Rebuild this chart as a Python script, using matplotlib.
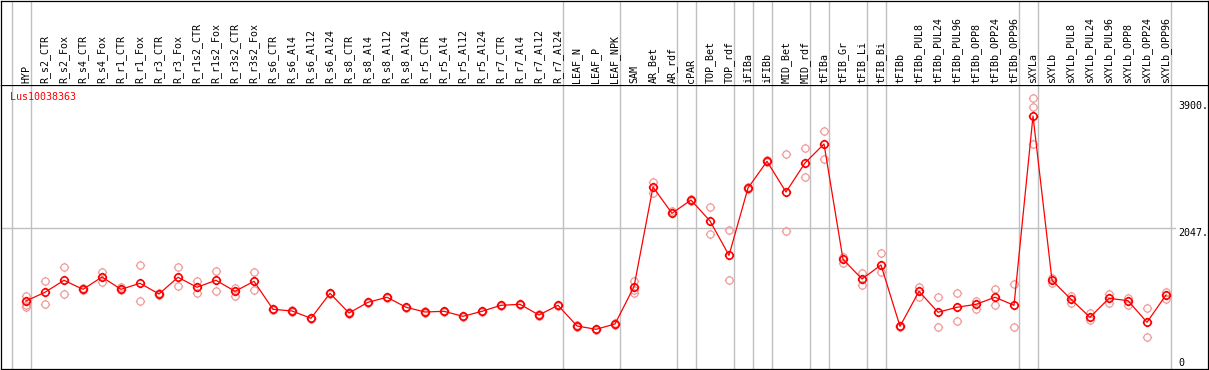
import matplotlib
matplotlib.use("Agg")
import matplotlib.pyplot as plt
from matplotlib.path import Path

samples = [
    "HYP",
    "R_s2_CTR", "R_s2_Fox", "R_s4_CTR", "R_s4_Fox", "R_r1_CTR", "R_r1_Fox",
    "R_r3_CTR", "R_r3_Fox", "R_r1s2_CTR", "R_r1s2_Fox", "R_r3s2_CTR", "R_r3s2_Fox",
    "R_s6_CTR", "R_s6_Al4", "R_s6_Al12", "R_s6_Al24",
    "R_s8_CTR", "R_s8_Al4", "R_s8_Al12", "R_s8_Al24",
    "R_r5_CTR", "R_r5_Al4", "R_r5_Al12", "R_r5_Al24",
    "R_r7_CTR", "R_r7_Al4", "R_r7_Al12", "R_r7_Al24",
    "LEAF_N", "LEAF_P", "LEAF_NPK",
    "SAM", "AR_Bet", "AR_rdf", "cPAR", "TOP_Bet", "TOP_rdf", "iFIBa", "iFIBb",
    "MID_Bet", "MID_rdf", "tFIBa", "tFIB_Gr", "tFIB_Li", "tFIB_Bi",
    "tFIBb", "tFIBb_PUL8", "tFIBb_PUL24", "tFIBb_PUL96",
    "tFIBb_OPP8", "tFIBb_OPP24", "tFIBb_OPP96",
    "sXYLa", "sXYLb", "sXYLb_PUL8", "sXYLb_PUL24", "sXYLb_PUL96",
    "sXYLb_OPP8", "sXYLb_OPP24", "sXYLb_OPP96",
]

mean_vals = [
    986,
    1113, 1288, 1156, 1336, 1156, 1244, 1088, 1332, 1186, 1288, 1127, 1273,
    864, 840, 733, 1098,
    810, 967, 1040, 894,
    825, 835, 762, 835,
    923, 937, 781, 923,
    621, 572, 650,
    1194, 2650, 2266, 2460, 2154, 1653, 2635, 3025,
    2577, 3001, 3278, 1594, 1307, 1511,
    616, 1127, 821, 894, 937, 1040, 923,
    3687, 1288, 1010, 748, 1025, 990, 675, 1073,
]

replicates = [
    [1059, 927, 902],
    [1273, 937], [1478, 1088], [1180, 1146], [1409, 1259], [1194, 1146], [1507, 986],
    [1102, 1073], [1478, 1200], [1273, 1098], [1428, 1132], [1180, 1063], [1413, 1142],
    [874, 856], [848, 832], [741, 725], [1106, 1090],
    [818, 802], [975, 959], [1048, 1032], [902, 886],
    [833, 817], [843, 827], [770, 754], [843, 827],
    [931, 915], [945, 929], [789, 773], [931, 915],
    [629, 613], [580, 564], [658, 642],
    [1278, 1098, 1146], [2727, 2567], [2300, 2266], [2480, 2440], [2358, 1964], [2022, 1288],
    [2650, 2620], [3040, 3010],
    [3128, 2008], [3215, 2792], [3472, 3054], [1632, 1536], [1399, 1219], [1686, 1405],
    [626, 606], [1194, 1048], [1040, 602], [1098, 694], [986, 869], [1156, 923], [1234, 602],
    [3945, 3814, 3278], [1321, 1253], [1059, 961], [806, 708], [1092, 961],
    [1029, 932], [888, 456], [1117, 1015],
]

group_breaks = [-1, 0, 28, 31, 34, 35, 37, 38, 39, 41, 42, 44, 45, 52, 53, 60]
gene = "Lus10038363"
y_marks = [3900, 2047, 0]
grid_value = 2047

W, H = 1209, 370
GRAY = "#c0c0c0"
MONO = "DejaVu Sans Mono"
FS = 7.2

# ring marker with four small ticks
ring = Path.make_compound_path(
    Path.unit_circle(),
    Path([(0, 1.0), (0, 1.3)]), Path([(0, -1.0), (0, -1.3)]),
    Path([(1.0, 0), (1.3, 0)]), Path([(-1.0, 0), (-1.3, 0)]),
)

fig = plt.figure(figsize=(W / 100, H / 100), dpi=100)
ax = fig.add_axes([1 / W, 1.5 / H, 1206.7 / W, (368.5 - 85) / H])
hdr = fig.add_axes([1 / W, (H - 85) / H, 1206.7 / W, 84.5 / H])

x_lo, x_hi = (1 - 26) / 19, (1207.7 - 26) / 19
for a in (ax, hdr):
    a.set_xlim(x_lo, x_hi)
    a.set_xticks([])
    a.set_yticks([])
    for s in a.spines.values():
        s.set_linewidth(0.9)
        s.set_color("black")
    for b in group_breaks:
        a.axvline(b + 0.25, color=GRAY, lw=1, zorder=0)
hdr.spines["bottom"].set_visible(False)
hdr.set_ylim(0, 1)
ax.set_ylim(0, (368.5 - 85) * 14.601)

ax.axhline(grid_value, xmax=(1175 - 1) / 1206.7, color=GRAY, lw=1, zorder=0)

for i, reps in enumerate(replicates):
    ax.plot([i] * len(reps), reps, ls="none", marker=ring, ms=6.8,
            mec="#f09a9a", mfc="none", mew=0.9, zorder=2)

ax.plot(range(len(mean_vals)), mean_vals, color="red", lw=0.9,
        marker=ring, ms=6.8, mec="red", mfc="none", mew=1.2, zorder=3)

for i, name in enumerate(samples):
    hdr.text(i, 2 / 84.5, name, rotation=90, ha="center", va="bottom",
             fontsize=FS, family=MONO, color="black")

x_lab = (1178 - 26) / 19
for v in y_marks:
    if v == 0:
        ax.text(x_lab, v, "0", ha="left", va="bottom", fontsize=FS, family=MONO)
    else:
        ax.text(x_lab, v, f"{v}.", ha="left", va="top", fontsize=FS, family=MONO)

fig.text(10 / W, (H - 97.3) / H, gene, color="red", ha="left", va="center",
         fontsize=FS, family=MONO)

fig.savefig("out.png", dpi=100)
